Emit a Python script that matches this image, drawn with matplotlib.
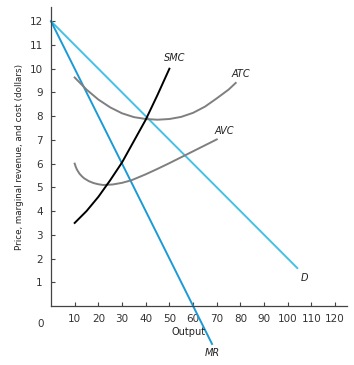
import matplotlib.pyplot as plt
import numpy as np

# demand and marginal revenue (straight lines)
dQ = [0, 104]
dP = [12, 1.6]
mrQ = [0, 68]
mrP = [12, -1.6]

# cost curves
smcQ = [10, 15, 20, 25, 30, 35, 40, 45, 50]
smcP = [3.5, 4.0, 4.6, 5.3, 6.05, 6.95, 7.85, 8.9, 10.0]
atcQ = [10, 15, 20, 25, 30, 35, 40, 45, 50, 55, 60, 65, 70, 75, 78]
atcP = [9.63, 9.12, 8.7, 8.37, 8.12, 7.96, 7.88, 7.85, 7.88, 7.97, 8.14, 8.4, 8.75, 9.12, 9.4]
avcQ = [10, 10.5, 11, 12, 13, 14, 16, 18, 20, 22, 26, 30, 34, 40, 45, 50, 55, 60, 65, 70]
avcP = [6.0, 5.85, 5.74, 5.58, 5.47, 5.38, 5.26, 5.18, 5.13, 5.1, 5.12, 5.19, 5.3, 5.55, 5.78, 6.02, 6.27, 6.52, 6.77, 7.02]

xticks = [10, 20, 30, 40, 50, 60, 70, 80, 90, 100, 110, 120]
yticks = [1, 2, 3, 4, 5, 6, 7, 8, 9, 10, 11, 12]

fig = plt.figure(figsize=(3.54, 3.65), dpi=100)
ax = fig.add_axes([51 / 354, 59 / 365, 296 / 354, 299 / 365])
ax.set_xlim(0, 125)
ax.set_ylim(0, 12.6)

light = '#45c0e6'
dark = '#1b9ad8'
grey = '#7f7f7f'

ax.plot(dQ, dP, color=light, lw=1.4, clip_on=False)
ax.plot(mrQ, mrP, color=dark, lw=1.4, clip_on=False)
ax.plot(atcQ, atcP, color=grey, lw=1.4)
ax.plot(avcQ, avcP, color=grey, lw=1.4)
ax.plot(smcQ, smcP, color='black', lw=1.4)

for s in ['top', 'right']:
    ax.spines[s].set_visible(False)
for s in ['left', 'bottom']:
    ax.spines[s].set_color('#444444')
    ax.spines[s].set_linewidth(0.9)

ax.set_xticks(xticks)
ax.set_yticks(yticks)
ax.tick_params(direction='in', length=3, width=0.8, color='#444444',
               labelsize=7.5, labelcolor='#333333', pad=6)
ax.text(-3, -0.55, '0', ha='right', va='top', fontsize=7.5, color='#333333')

lab = dict(fontsize=7, style='italic', color='#222222')
ax.text(52, 10.25, 'SMC', ha='center', va='bottom', **lab)
ax.text(80, 9.55, 'ATC', ha='center', va='bottom', **lab)
ax.text(73, 7.15, 'AVC', ha='center', va='bottom', **lab)
ax.text(105.5, 1.2, 'D', ha='left', va='center', **lab)
ax.text(68, -1.75, 'MR', ha='center', va='top', **lab)
ax.text(58, -1.1, 'Output', ha='center', va='center', fontsize=7, color='#222222')

ax.set_ylabel('Price, marginal revenue, and cost (dollars)', fontsize=6.3, color='#222222',
              labelpad=4)

fig.savefig('out.png', dpi=100)
